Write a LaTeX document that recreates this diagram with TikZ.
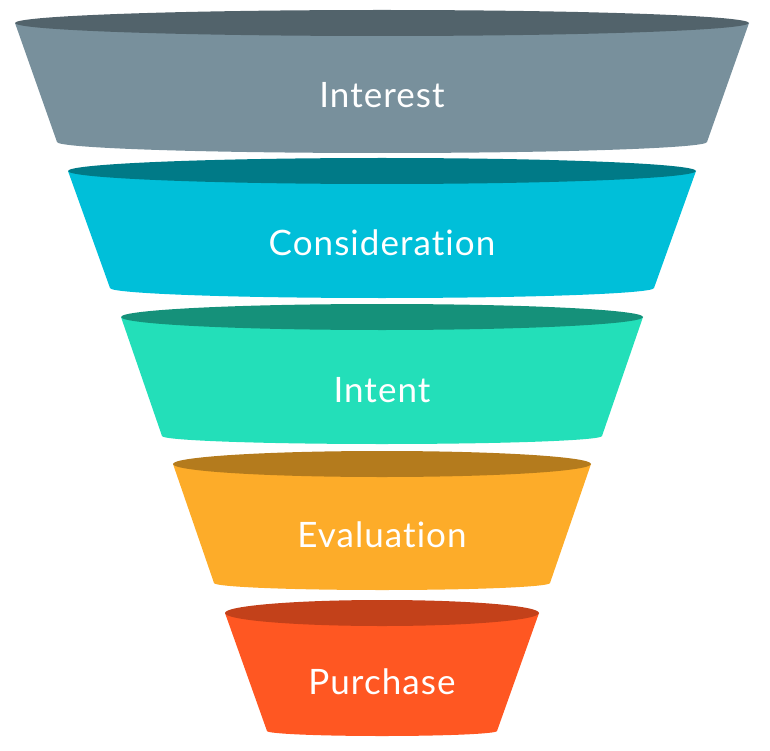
\documentclass[tikz,border=0pt]{standalone}
\usepackage{fontspec}
\setmainfont{Lato}[Ligatures=NoCommon, LetterSpace=3]
\definecolor{greytop}{HTML}{52636B}
\definecolor{greybody}{HTML}{78909C}
\definecolor{cyantop}{HTML}{007A87}
\definecolor{cyanbody}{HTML}{00BFD9}
\definecolor{minttop}{HTML}{15917A}
\definecolor{mintbody}{HTML}{23DFB9}
\definecolor{ambertop}{HTML}{B47B1D}
\definecolor{amberbody}{HTML}{FDAC29}
\definecolor{redtop}{HTML}{C3411A}
\definecolor{redbody}{HTML}{FF5722}
\tikzset{stagetext/.style={text=white, anchor=base, font=\fontsize{35}{35}\selectfont}}

\begin{document}
\begin{tikzpicture}[x=1pt, y=-1pt]
  \useasboundingbox (0,0) rectangle (770,751);
  % Interest
  \fill[greybody] (382-367,23) -- (382-325,142) arc (180:0:325 and 11) -- (382+367,23) -- cycle;
  \fill[greytop] (382,23) ellipse [x radius=367, y radius=13];
  \node[stagetext] (interest) at (382,108) {Interest};
  % Consideration
  \fill[cyanbody] (382-314,171) -- (382-272,288) arc (180:0:272 and 10) -- (382+314,171) -- cycle;
  \fill[cyantop] (382,171) ellipse [x radius=314, y radius=13];
  \node[stagetext] (consideration) at (382,255) {Consideration};
  % Intent
  \fill[mintbody] (382-261,317) -- (382-220,436) arc (180:0:220 and 8) -- (382+261,317) -- cycle;
  \fill[minttop] (382,317) ellipse [x radius=261, y radius=13];
  \node[stagetext] (intent) at (382,402) {Intent};
  % Evaluation
  \fill[amberbody] (382-209,464) -- (382-168,583) arc (180:0:168 and 7) -- (382+209,464) -- cycle;
  \fill[ambertop] (382,464) ellipse [x radius=209, y radius=13];
  \node[stagetext] (evaluation) at (382,547) {Evaluation};
  % Purchase
  \fill[redbody] (382-157,613) -- (382-115,731) arc (180:0:115 and 5) -- (382+157,613) -- cycle;
  \fill[redtop] (382,613) ellipse [x radius=157, y radius=13];
  \node[stagetext] (purchase) at (382,694) {Purchase};
\end{tikzpicture}
\end{document}
